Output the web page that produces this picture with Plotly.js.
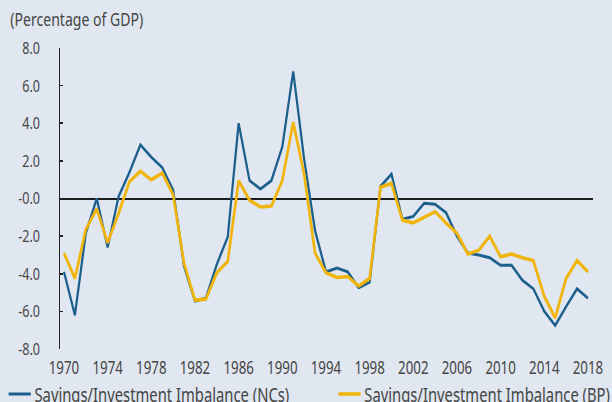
<!DOCTYPE html>
<html>
<head>
<meta charset="utf-8">
<script src="https://cdn.plot.ly/plotly-3.0.1.min.js"></script>
<style>
html,body{margin:0;padding:0;background:#e0e7f0;overflow:hidden;}
#wrap{width:612px;height:402px;overflow:hidden;position:relative;}
#chart{width:827px;height:402px;transform:scaleX(0.74);transform-origin:0 0;}
</style>
</head>
<body>
<div id="wrap"><div id="chart"></div></div>
<script>
var years = [];
for (var y = 1970; y <= 2018; y++) years.push(y);

var ncs = [-3.9, -6.2, -1.85, 0.0, -2.6, 0.1, 1.4, 2.85, 2.2, 1.65,
           0.45, -3.6, -5.45, -5.3, -3.5, -2.05, 4.0, 0.95, 0.5, 0.95,
           2.75, 6.75, 2.1, -1.7, -3.9, -3.7, -3.9, -4.75, -4.45, 0.65,
           1.3, -1.1, -0.95, -0.25, -0.3, -0.75, -2.0, -2.9, -3.0, -3.15,
           -3.55, -3.55, -4.35, -4.8, -6.0, -6.75, -5.75, -4.8, -5.3];

var bp = [-2.9, -4.25, -1.65, -0.55, -2.35, -0.8, 0.9, 1.45, 1.0, 1.35,
          0.2, -3.45, -5.4, -5.35, -3.95, -3.35, 0.95, -0.1, -0.45, -0.4,
          0.95, 4.05, 1.3, -2.9, -3.95, -4.2, -4.15, -4.65, -4.25, 0.6,
          0.8, -1.15, -1.3, -1.0, -0.7, -1.3, -1.85, -2.95, -2.75, -2.0,
          -3.1, -2.95, -3.15, -3.3, -5.2, -6.35, -4.25, -3.3, -3.9];

var xLabelVals = [1970, 1974, 1978, 1982, 1986, 1990, 1994, 1998, 2002, 2006, 2010, 2014, 2018];
var xTickMarks = [1973.5, 1977.5, 1981.5, 1985.5, 1989.5, 1993.5, 1997.5, 2001.5, 2005.5, 2009.5, 2013.5, 2017.5];
var yTickVals = [-8, -6, -4, -2, 0, 2, 4, 6, 8];
var yTickText = ['-8.0', '-6.0', '-4.0', '-2.0', '-0.0', '2.0', '4.0', '6.0', '8.0'];

var FONT = '"Noto Sans", "Open Sans", sans-serif';
var TXT = '#454545';
var xRange = [1969.63, 2018.44];

var traces = [
  {x: years, y: ncs, type: 'scatter', mode: 'lines',
   name: 'Savings/Investment Imbalance (NCs)', legend: 'legend',
   line: {color: '#1c5f8c', width: 3}},
  {x: years, y: bp, type: 'scatter', mode: 'lines',
   name: 'Savings/Investment Imbalance (BP)', legend: 'legend2',
   line: {color: '#f0b40a', width: 3.6}}
];

var legendFont = {family: FONT, size: 20, color: TXT};

var layout = {
  width: 827, height: 402,
  paper_bgcolor: '#e0e7f0', plot_bgcolor: '#e0e7f0',
  margin: {l: 81, r: 26, t: 48, b: 53},
  font: {family: FONT, color: TXT, size: 17},
  showlegend: true,
  title: {text: '(Percentage of GDP)', x: 0, xref: 'container', xanchor: 'left',
          y: 1, yref: 'container', yanchor: 'top', pad: {l: 14, t: 13},
          font: {family: FONT, size: 19, color: TXT}},
  xaxis: {range: xRange, showgrid: false, zeroline: false, showline: false,
          ticks: '', tickmode: 'array', tickvals: xLabelVals,
          ticktext: xLabelVals.map(String), ticklabelstandoff: 6,
          tickfont: {family: FONT, size: 18, color: TXT}},
  xaxis2: {overlaying: 'x', anchor: 'free', position: 0.5, side: 'bottom',
           range: xRange, showgrid: false, zeroline: false, showline: false,
           ticks: 'inside', ticklen: 4, tickwidth: 1.5, tickcolor: '#555',
           tickmode: 'array', tickvals: xTickMarks, showticklabels: false},
  yaxis: {range: [-8, 8], showgrid: false, zeroline: true, zerolinecolor: '#1e1e1e',
          zerolinewidth: 2, showline: true, linecolor: '#222', linewidth: 1.6,
          ticks: 'inside', ticklen: 4, tickwidth: 1.6, tickcolor: '#222',
          tickmode: 'array', tickvals: yTickVals, ticktext: yTickText,
          ticklabelstandoff: 22,
          tickfont: {family: FONT, size: 17, color: TXT}},
  legend: {orientation: 'h', xref: 'container', yref: 'container',
           x: 0.008, y: 0.02, xanchor: 'left', yanchor: 'middle',
           bgcolor: 'rgba(0,0,0,0)', font: legendFont},
  legend2: {orientation: 'h', xref: 'container', yref: 'container',
           x: 0.547, y: 0.02, xanchor: 'left', yanchor: 'middle',
           bgcolor: 'rgba(0,0,0,0)', font: legendFont}
};

Plotly.newPlot('chart', traces, layout, {displayModeBar: false, staticPlot: true});
</script>
</body>
</html>
